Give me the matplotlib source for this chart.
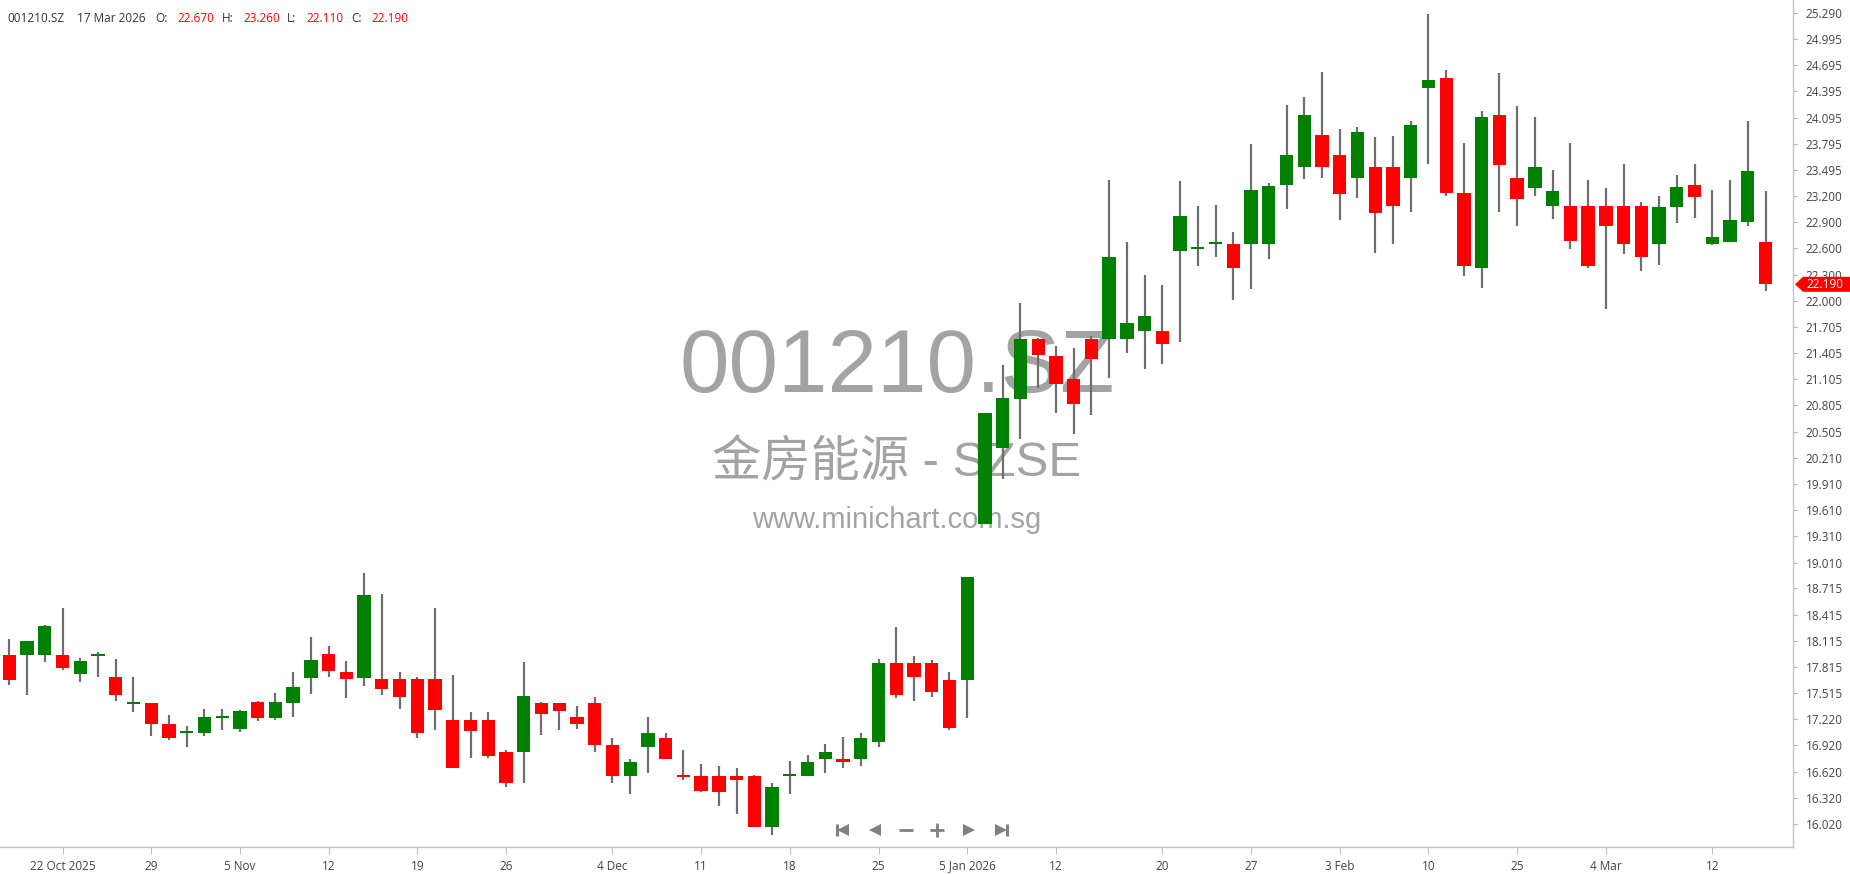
import matplotlib
matplotlib.use("Agg")
import matplotlib.pyplot as plt
import matplotlib.transforms as mtransforms
from matplotlib.patches import Polygon

plt.rcParams['font.family'] = ['Open Sans', 'DejaVu Sans']

ticker = "001210.SZ"
name_line = "金房能源 - SZSE"
site = "www.minichart.com.sg"
last_date = "17 Mar 2026"

# daily OHLC, 17 Oct 2025 .. 17 Mar 2026
opens = [17.95, 17.95, 17.95, 17.95, 17.74, 17.94, 17.70, 17.39, 17.41, 17.16,
         17.06, 17.06, 17.23, 17.11, 17.42, 17.23, 17.41, 17.69, 17.97, 17.76,
         17.69, 17.68, 17.68, 17.68, 17.68, 17.21, 17.21, 17.21, 16.85, 16.85,
         17.40, 17.40, 17.24, 17.40, 16.93, 16.57, 16.90, 17.00, 16.57, 16.57,
         16.57, 16.57, 16.57, 15.99, 16.57, 16.57, 16.76, 16.76, 16.76, 16.96,
         17.86, 17.86, 17.86, 17.67, 17.67, 19.45, 20.32, 20.88, 21.56, 21.37,
         21.11, 21.56, 21.56, 21.56, 21.66, 21.66, 22.57, 22.59, 22.65, 22.65,
         22.65, 22.65, 23.32, 23.53, 23.90, 23.67, 23.40, 23.53, 23.53, 23.40,
         24.43, 24.55, 23.23, 22.38, 24.12, 23.40, 23.29, 23.09, 23.09, 23.09,
         23.09, 23.09, 23.09, 22.65, 23.07, 23.32, 22.65, 22.67, 22.90, 22.67]
highs = [18.14, 18.11, 18.30, 18.49, 17.92, 17.99, 17.91, 17.70, 17.41, 17.27,
         17.14, 17.34, 17.34, 17.33, 17.43, 17.52, 17.76, 18.16, 18.06, 17.89,
         18.89, 18.65, 17.76, 17.70, 18.49, 17.73, 17.30, 17.30, 16.87, 17.87,
         17.42, 17.41, 17.37, 17.47, 17.00, 16.76, 17.24, 17.06, 16.87, 16.71,
         16.68, 16.66, 16.58, 16.49, 16.74, 16.81, 16.94, 17.02, 17.06, 17.91,
         18.27, 17.94, 17.90, 17.76, 18.84, 20.72, 21.27, 21.98, 21.58, 21.48,
         21.46, 21.60, 23.38, 22.67, 22.30, 22.18, 23.37, 23.09, 23.10, 22.79,
         23.79, 23.35, 24.24, 24.33, 24.62, 23.96, 23.99, 23.87, 23.89, 24.06,
         25.28, 24.64, 23.80, 24.17, 24.60, 24.23, 24.10, 23.50, 23.80, 23.38,
         23.29, 23.56, 23.13, 23.20, 23.44, 23.57, 23.27, 23.38, 24.06, 23.26]
lows = [17.61, 17.50, 17.87, 17.78, 17.64, 17.70, 17.43, 17.30, 17.03, 16.98,
        16.90, 17.03, 17.10, 17.07, 17.20, 17.21, 17.24, 17.51, 17.70, 17.46,
        17.60, 17.50, 17.34, 17.00, 17.10, 16.66, 16.78, 16.78, 16.44, 16.49,
        17.04, 17.10, 17.11, 16.85, 16.49, 16.37, 16.60, 16.76, 16.53, 16.39,
        16.23, 16.14, 15.99, 15.90, 16.36, 16.57, 16.60, 16.66, 16.69, 16.90,
        17.46, 17.43, 17.47, 17.10, 17.23, 19.45, 19.96, 20.42, 21.01, 20.72,
        20.48, 20.70, 21.12, 21.40, 21.22, 21.28, 21.53, 22.40, 22.50, 22.01,
        22.14, 22.48, 23.05, 23.39, 23.40, 22.92, 23.18, 22.55, 22.65, 23.02,
        23.56, 23.20, 22.29, 22.15, 23.02, 22.86, 23.20, 22.94, 22.59, 22.38,
        21.91, 22.54, 22.34, 22.41, 22.89, 22.95, 22.64, 22.67, 22.86, 22.11]
closes = [17.67, 18.11, 18.28, 17.80, 17.89, 17.95, 17.50, 17.40, 17.16, 17.00,
          17.07, 17.24, 17.24, 17.31, 17.23, 17.42, 17.59, 17.90, 17.77, 17.68,
          18.64, 17.57, 17.47, 17.06, 17.33, 16.66, 17.08, 16.80, 16.49, 17.49,
          17.28, 17.31, 17.16, 16.93, 16.57, 16.73, 17.06, 16.77, 16.56, 16.40,
          16.39, 16.53, 15.99, 16.45, 16.59, 16.73, 16.85, 16.73, 17.00, 17.86,
          17.50, 17.70, 17.53, 17.12, 18.84, 20.72, 20.89, 21.56, 21.38, 21.05,
          20.82, 21.34, 22.50, 21.75, 21.83, 21.51, 22.97, 22.61, 22.67, 22.38,
          23.27, 23.31, 23.67, 24.13, 23.53, 23.22, 23.93, 23.00, 23.09, 24.01,
          24.53, 23.23, 22.40, 24.10, 23.55, 23.16, 23.53, 23.26, 22.69, 22.40,
          22.86, 22.65, 22.50, 23.07, 23.30, 23.19, 22.73, 22.93, 23.48, 22.19]

date_ticks = [3, 8, 13, 18, 23, 28, 34, 39, 44, 49, 54, 59, 65, 70, 75, 80, 85, 90, 96]
date_labels = ["22 Oct 2025", "29", "5 Nov", "12", "19", "26", "4 Dec", "11", "18", "25",
               "5 Jan 2026", "12", "20", "27", "3 Feb", "10", "25", "4 Mar", "12"]
price_ticks = [25.290, 24.995, 24.695, 24.395, 24.095, 23.795, 23.495, 23.200,
               22.900, 22.600, 22.300, 22.000, 21.705, 21.405, 21.105, 20.805,
               20.505, 20.210, 19.910, 19.610, 19.310, 19.010, 18.715, 18.415,
               18.115, 17.815, 17.515, 17.220, 16.920, 16.620, 16.320, 16.020]

UP = '#008000'
DOWN = '#ff0000'
W, H = 1850, 874

fig = plt.figure(figsize=(W / 100, H / 100), dpi=100)
ax = fig.add_axes([0, 27 / H, 1793 / W, 1 - 27 / H])

x = list(range(len(opens)))
colors = [UP if c >= o else DOWN for o, c in zip(opens, closes)]
bottoms = [min(o, c) for o, c in zip(opens, closes)]
heights = [max(abs(c - o), 0.025) for o, c in zip(opens, closes)]

ax.vlines(x, lows, highs, color='#6e6e6e', linewidth=1.6, zorder=2)
ax.bar(x, heights, bottom=bottoms, width=0.75, color=colors, linewidth=0, zorder=3)

ax.set_xlim(-0.524, 100.55)
ax.set_ylim(15.759, 25.439)

# watermark (under the candles)
ax.text(897 / W, 1 - 369 / H, ticker, transform=fig.transFigure, ha='center', va='center',
        fontsize=64, color='#a3a3a3', family=['Liberation Sans', 'DejaVu Sans'], zorder=1)
ax.text(897 / W, 1 - 464 / H, name_line, transform=fig.transFigure, ha='center', va='center',
        fontsize=35.5, color='#a3a3a3', family=['Liberation Sans', 'Noto Sans CJK SC'], zorder=1)
ax.text(897 / W, 1 - 520 / H, site, transform=fig.transFigure, ha='center', va='center',
        fontsize=21, color='#a3a3a3', family=['Liberation Sans', 'DejaVu Sans'], zorder=1)

# axes styling
for s in ['top', 'left']:
    ax.spines[s].set_visible(False)
for s in ['right', 'bottom']:
    ax.spines[s].set_color('#c4c4c4')
    ax.spines[s].set_linewidth(1)

ax.yaxis.tick_right()
ax.set_yticks(price_ticks, ['%.3f' % v for v in price_ticks])
ax.tick_params(axis='y', length=3, pad=6, color='#b0b0b0', labelcolor='#444444', labelsize=8.5)
ax.set_xticks(date_ticks, date_labels)
ax.tick_params(axis='x', length=5, pad=4, color='#bdbdbd', labelcolor='#444444', labelsize=8.5)

# last price tag on the price axis
trans = mtransforms.blended_transform_factory(fig.transFigure, ax.transData)
px_unit = (H - 27) / (25.439 - 15.759)
half = 7.5 / px_unit
yc = closes[-1]
tag = Polygon([(1795 / W, yc), (1803 / W, yc + half), (1.0, yc + half),
               (1.0, yc - half), (1803 / W, yc - half)],
              closed=True, facecolor=DOWN, edgecolor='none', transform=trans,
              clip_on=False, zorder=9)
ax.add_patch(tag)
ax.text(1806 / W, yc, '%.3f' % yc, transform=trans, ha='left', va='center',
        color='white', fontsize=8.5, clip_on=False, zorder=10)

# header line
hy = 1 - 18 / H
fig.text(7 / W, hy, ticker, fontsize=8.5, color='#333333', va='center')
fig.text(77 / W, hy, last_date, fontsize=8.5, color='#333333', va='center')
header = [('O:', opens[-1], 155, 177), ('H:', highs[-1], 222, 243),
          ('L:', lows[-1], 287, 306), ('C:', closes[-1], 351, 371)]
for lab, val, lx, vx in header:
    fig.text(lx / W, hy, lab, fontsize=8.5, color='#333333', va='center')
    fig.text(vx / W, hy, '%.3f' % val, fontsize=8.5, color=DOWN, va='center')

# navigation buttons
ny = 1 - 830 / H
nav = dict(transform=fig.transFigure, color='#808080', clip_on=False, linestyle='none', zorder=5)
ax.plot([836.5 / W], [ny], marker='|', ms=9, mew=2.2, **nav)
ax.plot([842.5 / W], [ny], marker='<', ms=8.5, mew=0, **nav)
ax.plot([875 / W], [ny], marker='<', ms=8.5, mew=0, **nav)
ax.plot([906 / W], [ny], marker='_', ms=10, mew=2, **nav)
ax.plot([937 / W], [ny], marker='+', ms=10, mew=2, **nav)
ax.plot([969 / W], [ny], marker='>', ms=8.5, mew=0, **nav)
ax.plot([1000.5 / W], [ny], marker='>', ms=8.5, mew=0, **nav)
ax.plot([1006.5 / W], [ny], marker='|', ms=9, mew=2.2, **nav)

fig.savefig('out.png', dpi=100)
